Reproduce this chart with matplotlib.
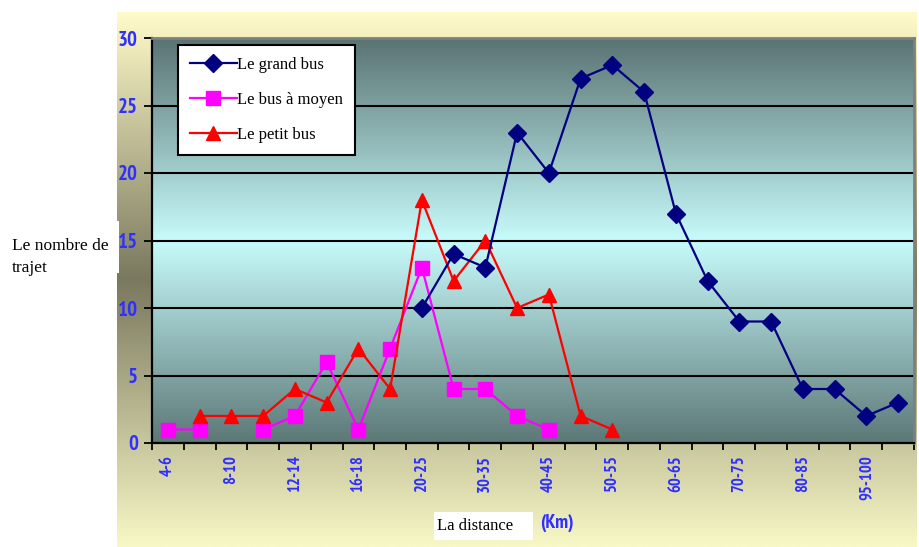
import numpy as np
import matplotlib
matplotlib.use("Agg")
import matplotlib.pyplot as plt
from matplotlib.colors import LinearSegmentedColormap
from matplotlib.patches import Rectangle
from matplotlib import font_manager

# Distance classes (km) and number of trips per bus type
categories = ["4-6", "6-8", "8-10", "10-12", "12-14", "14-16", "16-18", "18-20",
              "20-25", "25-30", "30-35", "35-40", "40-45", "45-50", "50-55", "55-60",
              "60-65", "65-70", "70-75", "75-80", "80-85", "85-95", "95-100", "100+"]
grand_bus = [None, None, None, None, None, None, None, None,
             10, 14, 13, 23, 20, 27, 28, 26, 17, 12, 9, 9, 4, 4, 2, 3]
moyen_bus = [1, 1, None, 1, 2, 6, 1, 7, 13, 4, 4, 2, 1,
             None, None, None, None, None, None, None, None, None, None, None]
petit_bus = [None, 2, 2, 2, 4, 3, 7, 4, 18, 12, 15, 10, 11, 2, 1,
             None, None, None, None, None, None, None, None, None]
series_labels = ["Le grand bus", "Le bus à moyen", "Le petit bus"]
y_ticks = [0, 5, 10, 15, 20, 25, 30]


def as_array(values):
    return np.array([np.nan if v is None else v for v in values], dtype=float)


available = {f.name for f in font_manager.fontManager.ttflist}
sans_bold = next((n for n in ("PT Sans Narrow", "Archivo Narrow", "Liberation Sans")
                  if n in available), "DejaVu Sans")
serif = "Liberation Serif"
blue = "#2f2fff"

W, H = 919, 547
fig = plt.figure(figsize=(W / 100, H / 100), dpi=100, facecolor="white")

# Chart area: pale yellow fading to olive in the middle
bg = fig.add_axes([117 / W, 0, (917 - 117) / W, (547 - 12) / H], zorder=0)
bg_cmap = LinearSegmentedColormap.from_list(
    "chartarea", [(0.0, "#fffbc9"), (0.5, "#7a785e"), (1.0, "#f8f8c6")])
bg.imshow(np.linspace(0, 1, 256).reshape(-1, 1), cmap=bg_cmap, aspect="auto",
          extent=[0, 1, 0, 1], origin="upper")
bg.set_axis_off()

# White box behind the y-axis title
fig.patches.append(Rectangle((0, (547 - 273) / H), 119 / W, 52 / H,
                             transform=fig.transFigure, facecolor="white",
                             edgecolor="none", zorder=1))

ax = fig.add_axes([152 / W, (547 - 443) / H, (914 - 152) / W, (443 - 38) / H], zorder=2)
plot_cmap = LinearSegmentedColormap.from_list(
    "plotarea", [(0.0, "#5a7373"), (0.5, "#c8fbfb"), (1.0, "#5c7877")])
ax.imshow(np.linspace(0, 1, 256).reshape(-1, 1), cmap=plot_cmap, aspect="auto",
          extent=[0, 1, 0, 1], origin="upper", transform=ax.transAxes, zorder=0)

x = np.arange(len(categories))
ax.set_xlim(-0.5, len(categories) - 0.5)
ax.set_ylim(0, 30)

for yv in y_ticks[1:-1]:
    ax.axhline(yv, color="black", lw=1.5, zorder=1)

ax.plot(x, as_array(grand_bus), color="#000080", lw=1.6, marker="D", ms=9,
        label=series_labels[0], zorder=4)
ax.plot(x, as_array(moyen_bus), color="#ff00ff", lw=1.6, marker="s", ms=10.5,
        label=series_labels[1], zorder=3)
ax.plot(x, as_array(petit_bus), color="#ff0000", lw=1.6, marker="^", ms=10.5,
        label=series_labels[2], zorder=3)

# Axes, ticks and labels
ax.set_yticks(y_ticks)
ax.set_yticklabels([str(v) for v in y_ticks])
ax.set_xticks(x[::2])
ax.set_xticklabels(categories[::2], rotation=90)
ax.set_xticks(np.arange(-0.5, len(categories), 1), minor=True)
ax.tick_params(axis="x", which="major", length=0, pad=9)
ax.tick_params(axis="x", which="minor", length=5, width=1.3, color="black", direction="out")
ax.tick_params(axis="y", length=6, width=1.3, color="black", direction="out", pad=4)
for lab in ax.get_xticklabels():
    lab.set_fontfamily(sans_bold)
    lab.set_fontweight("bold")
    lab.set_fontsize(12)
    lab.set_color(blue)
for lab in ax.get_yticklabels():
    lab.set_fontfamily(sans_bold)
    lab.set_fontweight("bold")
    lab.set_fontsize(15)
    lab.set_color(blue)

for side in ("left", "bottom"):
    ax.spines[side].set_color("black")
    ax.spines[side].set_linewidth(1.6)
for side in ("top", "right"):
    ax.spines[side].set_color("#7f7f7f")
    ax.spines[side].set_linewidth(2)

leg = ax.legend(loc="upper left", bbox_to_anchor=(0.034, 0.983), frameon=True,
                fancybox=False, edgecolor="black", facecolor="white", framealpha=1,
                prop={"family": serif, "size": 12}, handlelength=2.8,
                handletextpad=0.02, labelspacing=1.15, borderpad=0.72,
                borderaxespad=0)
leg.get_frame().set_linewidth(1.5)
leg.set_zorder(6)

# Axis titles
fig.text(12 / W, 1 - 257 / H, "Le nombre de\ntrajet", family=serif, size=12.5,
         color="black", ha="left", va="center", linespacing=1.45, zorder=3)
fig.patches.append(Rectangle((434 / W, 1 - 540 / H), 99 / W, 28 / H,
                             transform=fig.transFigure, facecolor="white",
                             edgecolor="none", zorder=1))
fig.text(437 / W, 1 - 526 / H, "La distance", family=serif, size=12,
         color="black", ha="left", va="center", zorder=3)
fig.text(540 / W, 1 - 523 / H, "(Km)", family=sans_bold, weight="bold", size=14,
         color=blue, ha="left", va="center", zorder=3)

fig.savefig("out.png", dpi=100, facecolor="white")
